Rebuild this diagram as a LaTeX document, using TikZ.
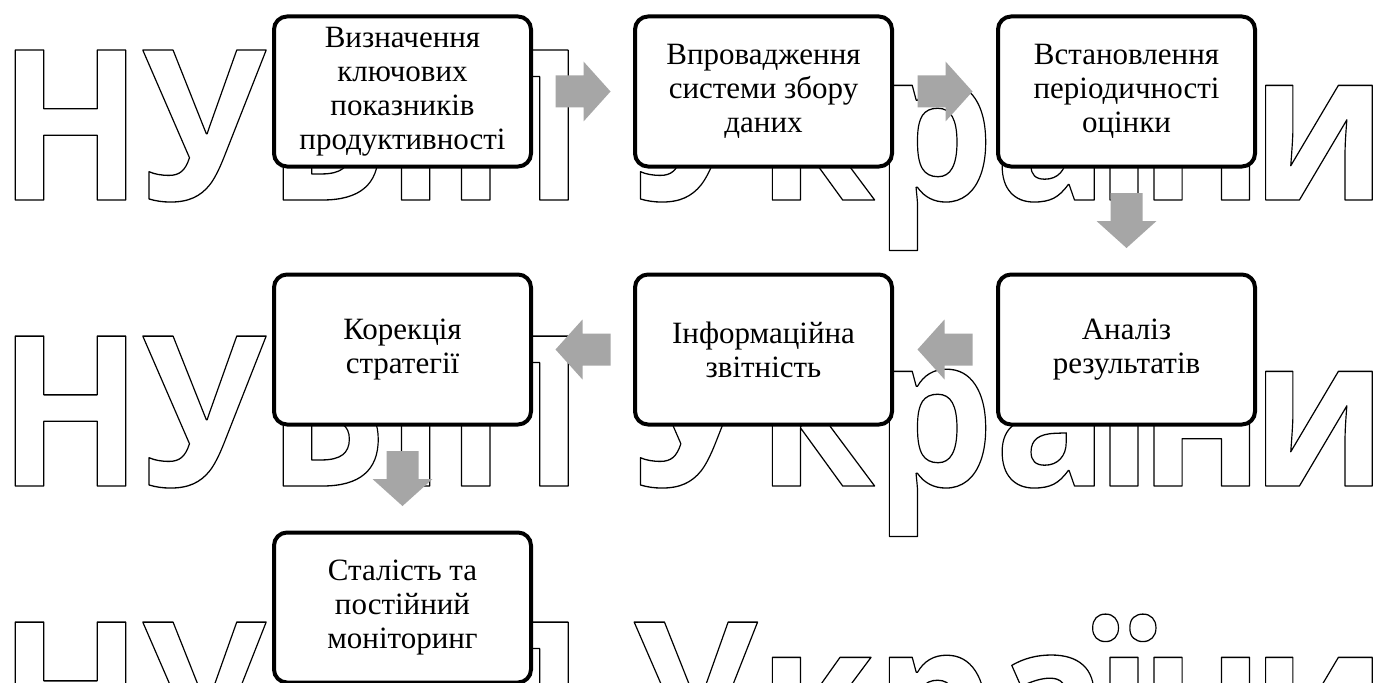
\documentclass[tikz,border=0pt]{standalone}
\usepackage{fontspec}
\setmainfont{Liberation Serif}
\newfontfamily\wmfont{Open Sans}
\usetikzlibrary{calc}
\newcommand\wmtext{\scalebox{0.9}[1]{\fontsize{210}{210}\wmfont\bfseries\special{pdf:literal direct 1.3 w 1 j 1 Tr}НУБіП Укра\kern-15ptї\kern-15ptн\kern-15ptи\special{pdf:literal direct 0 Tr}}}
\begin{document}
\begin{tikzpicture}[x=1pt,y=-1pt,
  stepbox/.style={draw=black, line width=4pt, rounded corners=13pt, fill=white,
    minimum width=257pt, minimum height=150pt, align=center,
    font=\fontsize{31}{34}\selectfont, inner sep=0pt},
  arrowfill/.style={fill=black!35, draw=none},
  blockarrow/.pic={\fill[arrowfill] (-27.5,-16) -- (0.5,-16) -- (0.5,-30)
     -- (27.5,0) -- (0.5,30) -- (0.5,16) -- (-27.5,16) -- cycle;},
  wm/.style={anchor=base west, inner sep=0pt}]
\useasboundingbox (0,0) rectangle (1396,682);
\clip (0,0) rectangle (1396,682);
\fill[white] (0,0) rectangle (1396,682);
% watermark
\node[wm] (w1) at (-2,200) {\wmtext};
\node[wm] (w2) at (-2,486) {\wmtext};
\node[wm] (w3) at (-2,772) {\wmtext};
% boxes
\node[stepbox] (b1) at (402.5,91.5) {Визначення\\ключових\\показників\\продуктивності};
\node[stepbox] (b2) at (763.5,91.5) {Впровадження\\системи збору\\даних};
\node[stepbox] (b3) at (1126.5,91.5) {Встановлення\\періодичності\\оцінки};
\node[stepbox] (b6) at (1126.5,349.5) {Аналіз\\результатів};
\node[stepbox] (b5) at (763.5,349.5) {Інформаційна\\звітність};
\node[stepbox] (b4) at (402.5,349.5) {Корекція\\стратегії};
\node[stepbox] (b7) at (402.5,607.5) {Сталість та\\постійний\\моніторинг};
% arrows between the boxes
\coordinate (m1) at ($(b1.east)!0.5!(b2.west)$);
\coordinate (m2) at ($(b2.east)!0.5!(b3.west)$);
\coordinate (m3) at ($(b3.south)!0.5!(b6.north)$);
\coordinate (m4) at ($(b6.west)!0.5!(b5.east)$);
\coordinate (m5) at ($(b5.west)!0.5!(b4.east)$);
\coordinate (m6) at ($(b4.south)!0.5!(b7.north)$);
\pic (a1) at (m1) {blockarrow};
\pic (a2) at (m2) {blockarrow};
\pic[rotate=-90] (a3) at (m3) {blockarrow};
\pic[rotate=180] (a4) at (m4) {blockarrow};
\pic[rotate=180] (a5) at (m5) {blockarrow};
\pic[rotate=-90] (a6) at (m6) {blockarrow};
\end{tikzpicture}
\end{document}
